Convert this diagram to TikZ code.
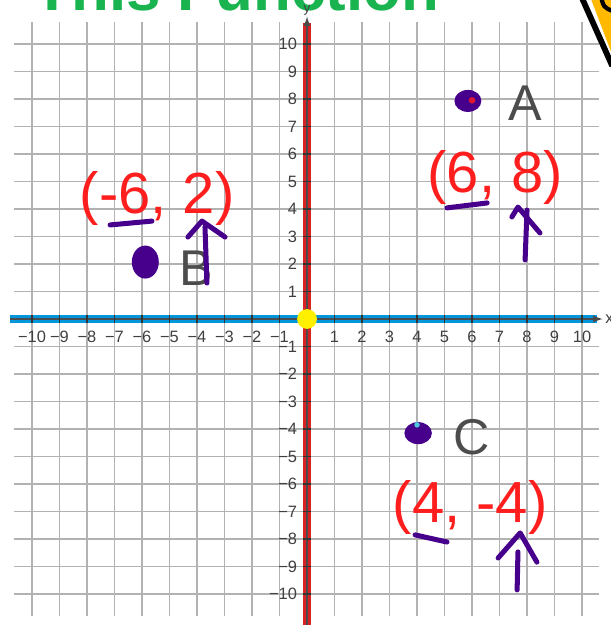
\documentclass[tikz,border=0pt]{standalone}
\usepackage{fontspec}
\setmainfont{Liberation Sans}
\usetikzlibrary{shapes.geometric}

\definecolor{axisblue}{RGB}{0,150,220}
\definecolor{axisred}{RGB}{215,35,35}
\definecolor{inkpurple}{RGB}{70,0,140}
\definecolor{coordred}{RGB}{255,30,30}
\definecolor{titlegreen}{RGB}{25,180,80}
\definecolor{pencilyellow}{RGB}{255,185,0}
\definecolor{dotyellow}{RGB}{255,240,0}
\definecolor{spotcyan}{RGB}{80,200,220}

\begin{document}
\begin{tikzpicture}[
  x=0.5cm, y=0.5cm,
  every node/.style = {font=\fontsize{8.5}{10}\selectfont, text=black!75},
  gridline/.style   = {black!30, line width=0.9pt},
  ink/.style        = {inkpurple, line width=2.6pt, line cap=round, line join=round},
  inkdot/.style     = {ellipse, fill=inkpurple, inner sep=0pt},
  pointlabel/.style = {font=\fontsize{26}{30}\selectfont, text=black!70, inner sep=0pt},
  coordlabel/.style = {font=\fontsize{30}{34}\selectfont, text=coordred, inner sep=0pt},
]
\useasboundingbox (-11.164,-11.127) rectangle (11.018,11.6);

% ── Title (cut off at the top) ────────────────────────────────────────────
\node[anchor=base west, inner sep=0pt, text=titlegreen,
      font=\fontsize{32}{36}\selectfont\bfseries] (title) at (-9.96,11.22) {This Function};

% ── Pencil corner ─────────────────────────────────────────────────────────
\fill[pencilyellow] (10.3,11.7) -- (11.1,11.7) -- (11.1,9.6) -- cycle;
\draw[black, line width=3pt] (9.95,11.78) -- (11.1,9.2);
\draw[black, line width=2.2pt] (10.7,11.7) .. controls (10.78,11.35) .. (11.1,11.2);

% ── Grid ──────────────────────────────────────────────────────────────────
\foreach \i in {-10,...,10} {
  \draw[gridline] (\i,-10.8) -- (\i,10.8);
  \draw[gridline] (-10.65,\i) -- (10.6,\i);
}

% ── Axes ──────────────────────────────────────────────────────────────────
\draw[axisblue, line width=4.2pt] (-10.8,0) -- (10.55,0);
\draw[axisred, line width=4.2pt] (0,-11.4) -- (0,10.75);
\draw[black!70, line width=0.7pt, -latex] (-10.8,0) -- (10.75,0)
  node[right, inner sep=1pt] (xlab) {x};
\draw[black!70, line width=0.7pt, -latex] (0,-11.4) -- (0,11.0)
  node[above, inner sep=0.5pt, font=\fontsize{7}{8}\selectfont] (ylab) {y};

\foreach \i in {-10,...,-1,1,2,...,10} {
  \draw[black!80, line width=0.7pt] (\i,-0.15) -- (\i,0.15);
  \draw[black!80, line width=0.7pt] (-0.15,\i) -- (0.15,\i);
}
\foreach \i in {-10,...,-1} {
  \node[below=1.5pt] (xt\i) at (\i,-0.1) {−\the\numexpr-\i\relax};
  \node[left=0.5pt] (yt\i) at (-0.08,\i) {−\the\numexpr-\i\relax};
}
\foreach \i in {1,...,10} {
  \node[below=1.5pt] (xt\i) at (\i,-0.1) {\i};
  \node[left=0.5pt] (yt\i) at (-0.08,\i) {\i};
}

% origin
\fill[dotyellow] (0,0) circle (0.36);

% ── Point A (6, 8) ────────────────────────────────────────────────────────
\node[inkdot, minimum width=0.49cm, minimum height=0.4cm] (dotA) at (5.85,7.93) {};
\fill[coordred!80!inkpurple] (6.0,7.95) circle (0.12);
\node[pointlabel] (labA) at (7.93,7.85) {A};
\node[coordlabel] (coordA) at (6.84,5.16) {(6, 8)};
\draw[ink] (5.09,4.04) -- (6.55,4.22);
\draw[ink] (7.93,2.15) -- (8.0,3.96);
\draw[ink] (7.45,3.71) -- (7.67,4.07) -- (8.47,3.13);

% ── Point B (-6, 2) ───────────────────────────────────────────────────────
\node[inkdot, minimum width=0.49cm, minimum height=0.6cm] (dotB) at (-5.88,2.07) {};
\node[pointlabel] (labB) at (-4.04,1.85) {B};
\node[coordlabel] (coordB) at (-5.45,4.4) {(-6, 2)};
\draw[ink] (-7.16,3.42) -- (-5.64,3.56);
\draw[ink] (-3.64,1.31) -- (-3.71,3.35);
\draw[ink] (-4.33,2.98) -- (-3.82,3.56) -- (-2.98,2.98);

% ── Point C (4, -4) ───────────────────────────────────────────────────────
\node[inkdot, minimum width=0.5cm, minimum height=0.4cm] (dotC) at (4.04,-4.15) {};
\fill[spotcyan] (4.0,-3.85) circle (0.1);
\node[pointlabel] (labC) at (6.0,-4.29) {C};
\node[coordlabel] (coordC) at (5.93,-6.84) {(4, -4)};
\draw[ink] (3.93,-7.85) -- (5.09,-8.11);
\draw[ink] (7.64,-9.85) -- (7.67,-8.47);
\draw[ink] (6.95,-8.69) -- (7.75,-7.78) -- (8.36,-8.84);

\end{tikzpicture}
\end{document}
